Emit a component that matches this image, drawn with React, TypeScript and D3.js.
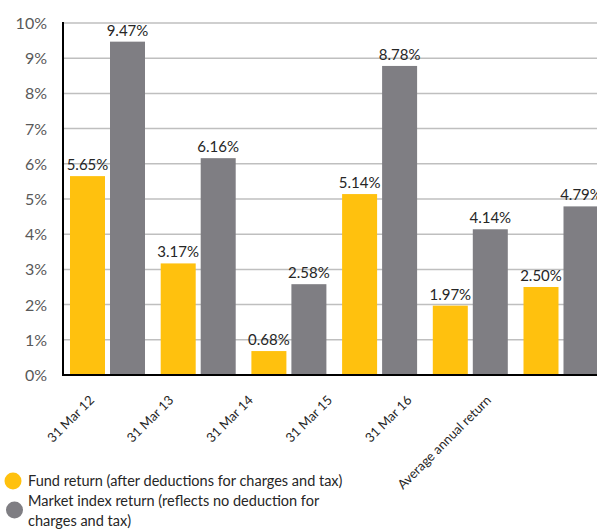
import React, { useEffect, useRef } from 'react';
import * as d3 from 'd3';

const categories = ['31 Mar 12', '31 Mar 13', '31 Mar 14', '31 Mar 15', '31 Mar 16', 'Average annual return'];
const fundReturn = [5.65, 3.17, 0.68, 5.14, 1.97, 2.5];
const indexReturn = [9.47, 6.16, 2.58, 8.78, 4.14, 4.79];
const yTicks = [0, 1, 2, 3, 4, 5, 6, 7, 8, 9, 10];
const legendLabels = [
  ['Fund return (after deductions for charges and tax)'],
  ['Market index return (reflects no deduction for', 'charges and tax)'],
];

const YELLOW = '#FFC10E';
const GREY = '#7F7E83';
const FONT = 'Lato, "Open Sans", sans-serif';

const App: React.FC = () => {
  const svgRef = useRef<SVGSVGElement>(null);

  useEffect(() => {
    const width = 597;
    const height = 530;
    const left = 63;
    const top = 23;
    const bottom = 375;

    const svg = d3.select(svgRef.current).attr('width', width).attr('height', height);
    svg.selectAll('*').remove();

    const x = d3.scaleBand<string>().domain(categories).range([left, left + 6 * 90.7]);
    const y = d3.scaleLinear().domain([0, 10]).range([bottom, top]);
    const barW = 35;
    const off = [7, 47];

    // gridlines
    svg.append('g')
      .selectAll('line')
      .data(yTicks.filter(d => d > 0))
      .enter()
      .append('line')
      .attr('x1', left)
      .attr('x2', width)
      .attr('y1', d => y(d))
      .attr('y2', d => y(d))
      .attr('stroke', '#BFBFBF')
      .attr('stroke-width', 1.5);

    // y tick labels
    svg.append('g')
      .selectAll('text')
      .data(yTicks)
      .enter()
      .append('text')
      .attr('x', 47)
      .attr('y', d => y(d) + 6)
      .attr('text-anchor', 'end')
      .attr('font-family', FONT)
      .attr('font-size', 16)
      .attr('fill', '#595959')
      .text(d => `${d}%`);

    const series = [
      { values: fundReturn, color: YELLOW, off: off[0] },
      { values: indexReturn, color: GREY, off: off[1] },
    ];

    series.forEach(s => {
      const g = svg.append('g');
      g.selectAll('rect')
        .data(s.values)
        .enter()
        .append('rect')
        .attr('x', (d, i) => (x(categories[i]) || 0) + s.off)
        .attr('y', d => y(d))
        .attr('width', barW)
        .attr('height', d => bottom - y(d))
        .attr('fill', s.color);
      g.selectAll('text')
        .data(s.values)
        .enter()
        .append('text')
        .attr('x', (d, i) => (x(categories[i]) || 0) + s.off + barW / 2)
        .attr('y', d => y(d) - 6)
        .attr('text-anchor', 'middle')
        .attr('font-family', FONT)
        .attr('font-size', 15)
        .attr('fill', '#262626')
        .text(d => `${d.toFixed(2)}%`);
    });

    // axes lines
    svg.append('line')
      .attr('x1', left).attr('x2', left)
      .attr('y1', top - 1).attr('y2', bottom + 1)
      .attr('stroke', '#000').attr('stroke-width', 2);
    svg.append('line')
      .attr('x1', left).attr('x2', width)
      .attr('y1', bottom).attr('y2', bottom)
      .attr('stroke', '#000').attr('stroke-width', 2);

    // x labels
    const lx = d3.scalePoint<string>().domain(categories).range([95, 492]);
    svg.append('g')
      .selectAll('text')
      .data(categories)
      .enter()
      .append('text')
      .attr('transform', d => `translate(${lx(d)},401) rotate(-45)`)
      .attr('text-anchor', 'end')
      .attr('font-family', FONT)
      .attr('font-size', 13)
      .attr('fill', '#262626')
      .text(d => d);

    // legend
    const colors = [YELLOW, GREY];
    const markers = [[13, 481], [14.5, 510]];
    const leg = svg.append('g');
    legendLabels.forEach((lines, i) => {
      leg.append('circle')
        .attr('cx', markers[i][0])
        .attr('cy', markers[i][1])
        .attr('r', 8.5)
        .attr('fill', colors[i]);
      lines.forEach((t, j) => {
        leg.append('text')
          .attr('x', 28)
          .attr('y', 486 + i * 20 + j * 20)
          .attr('font-family', FONT)
          .attr('font-size', 14.5)
          .attr('fill', '#262626')
          .text(t);
      });
    });
  }, []);

  return <svg ref={svgRef} style={{ position: 'absolute', left: 0, top: 0 }}></svg>;
};

export default App;
